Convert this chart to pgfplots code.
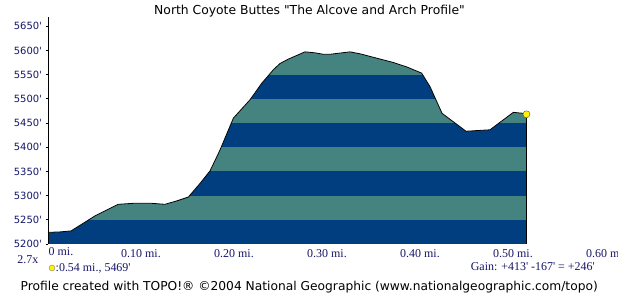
\documentclass[border=0pt]{standalone}
\usepackage{pgfplots}
\pgfplotsset{compat=1.18}
\usepackage{pgfplotstable}
\usepackage{fontspec}
\setmainfont{Liberation Serif}
\newfontfamily\dejavu{DejaVu Sans}
\definecolor{band}{RGB}{0,62,128}
\definecolor{tealband}{RGB}{69,131,128}
\definecolor{navytxt}{RGB}{22,22,105}

\pgfplotstableread{
x y
0.0000 5224
0.0129 5225
0.0247 5227
0.0505 5258
0.0753 5282
0.0914 5284
0.1118 5284
0.1258 5282
0.1384 5289
0.1509 5297
0.1634 5325
0.1742 5351
0.1849 5394
0.1993 5460
0.2172 5498
0.2298 5532
0.2423 5560
0.2495 5573
0.2584 5582
0.2763 5597
0.2871 5595
0.2960 5592
0.3032 5592
0.3247 5597
0.3355 5593
0.3713 5575
0.3856 5566
0.4018 5553
0.4108 5525
0.4237 5470
0.4495 5433
0.4753 5436
0.5003 5472
0.5111 5470
0.5145 5468
}\profile

\begin{document}
\begin{tikzpicture}
\useasboundingbox (0,0) rectangle (618bp,296bp);
\begin{axis}[
  at={(48bp,52bp)}, anchor=south west,
  scale only axis, width=558bp, height=226.5bp,
  xmin=0, xmax=0.6, ymin=5200, ymax=5668,
  axis lines*=left,
  x axis line style={draw=none},
  y axis line style={black, line width=0.8bp},
  axis on top,
  xtick={0,0.1,0.2,0.3,0.4,0.5,0.6},
  xticklabels={,0.10 mi.,0.20 mi.,0.30 mi.,0.40 mi.,0.50 mi.,0.60 mi.},
  xtick style={draw=none},
  x tick label style={font=\fontsize{12}{12}\selectfont, text=navytxt, anchor=north},
  ytick={5200,5250,...,5650},
  yticklabels={5200\textquotesingle,5250\textquotesingle,5300\textquotesingle,5350\textquotesingle,5400\textquotesingle,5450\textquotesingle,5500\textquotesingle,5550\textquotesingle,5600\textquotesingle,5650\textquotesingle},
  y tick label style={font=\dejavu\fontsize{10}{10}\selectfont, text=navytxt},
  ytick style={black, line width=0.8bp},
  tick align=outside, major tick length=2.5bp,
]
% teal background under the profile
\addplot[draw=none, fill=tealband] coordinates {(0,5200) (0.5145,5200) (0.5145,5700) (0,5700)} -- cycle;
% dark bands
\addplot[draw=none, fill=band] coordinates {(0,5200) (0.5145,5200) (0.5145,5250) (0,5250)} -- cycle;
\addplot[draw=none, fill=band] coordinates {(0,5300) (0.5145,5300) (0.5145,5350) (0,5350)} -- cycle;
\addplot[draw=none, fill=band] coordinates {(0,5400) (0.5145,5400) (0.5145,5450) (0,5450)} -- cycle;
\addplot[draw=none, fill=band] coordinates {(0,5500) (0.5145,5500) (0.5145,5550) (0,5550)} -- cycle;
\addplot[draw=none, fill=band] coordinates {(0,5600) (0.5145,5600) (0.5145,5650) (0,5650)} -- cycle;
% white cover above the profile
\addplot[draw=none, fill=white] table[x=x,y=y]{\profile} |- (axis cs:0,5700) -- cycle;
% outline
\addplot[black, line width=0.8bp] table[x=x,y=y]{\profile};
\addplot[black, line width=0.8bp] coordinates {(0.5145,5468) (0.5145,5200)};
\addplot[only marks, mark=*, mark size=3.5bp, mark options={fill=yellow, draw=black!60, line width=0.5bp}] coordinates {(0.5145,5468)};
\end{axis}
\node[font=\dejavu\fontsize{12.4}{12.4}\selectfont, anchor=base] at (309.5bp,281.5bp) {North Coyote Buttes "The Alcove and Arch Profile"};
\node[anchor=base west, inner sep=0pt, text=navytxt, font=\fontsize{12}{12}\selectfont] at (48.5bp,40.5bp) {0 mi.};
\node[anchor=base east, inner sep=0pt, text=navytxt, font=\fontsize{12}{12}\selectfont] at (38.5bp,33bp) {2.7x};
\fill[yellow, draw=black!50, line width=0.4bp] (52bp,28bp) circle (3bp);
\node[anchor=base west, inner sep=0pt, text=navytxt, font=\fontsize{12}{12}\selectfont] at (55.5bp,25bp) {:0.54 mi., 5469\textquotesingle};
\node[anchor=base east, inner sep=0pt, text=navytxt, font=\fontsize{12}{12}\selectfont] at (595bp,26bp) {Gain: +413\textquotesingle{} -167\textquotesingle{} = +246\textquotesingle};
\node[anchor=base west, inner sep=0pt, font=\dejavu\fontsize{12.3}{12.3}\selectfont] at (20.5bp,5.5bp) {Profile created with TOPO!® ©2004 National Geographic (www.nationalgeographic.com/topo)};
\end{tikzpicture}
\end{document}
